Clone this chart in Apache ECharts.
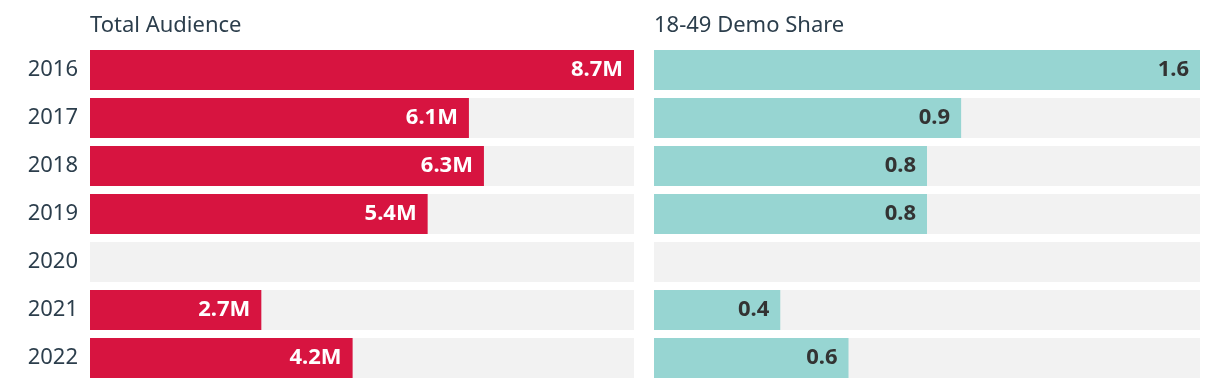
<!DOCTYPE html>
<html>
<head>
<meta charset="utf-8">
<script src="https://cdn.jsdelivr.net/npm/echarts@6/dist/echarts.min.js"></script>
<style>
html,body{margin:0;padding:0;background:#fff;}
#chart{width:1220px;height:388px;}
</style>
</head>
<body>
<div id="chart"></div>
<script>
const years = ['2016', '2017', '2018', '2019', '2020', '2021', '2022'];
const totalAudience = [8.7, 6.06, 6.3, 5.4, null, 2.74, 4.2];   // millions
const demoShare = [1.6, 0.9, 0.8, 0.8, null, 0.37, 0.57];
const panelTitles = ['Total Audience', '18-49 Demo Share'];

const FONT = '"Noto Sans", "Open Sans", sans-serif';
const chart = echarts.init(document.getElementById('chart'));

function yAxis(idx, showLabels) {
  return {
    type: 'category', gridIndex: idx, data: years, inverse: true,
    axisLine: {show: false}, axisTick: {show: false},
    axisLabel: {show: showLabels, fontSize: 22, color: '#2c3e4c', margin: 12, fontFamily: FONT}
  };
}
function xAxis(idx, max) {
  return {type: 'value', gridIndex: idx, min: 0, max: max, show: false};
}

chart.setOption({
  animation: false,
  title: [
    {text: panelTitles[0], left: 90, top: 15, padding: 0,
     textStyle: {fontSize: 22, fontWeight: 'normal', color: '#2c3e4c', fontFamily: FONT}},
    {text: panelTitles[1], left: 654, top: 15, padding: 0,
     textStyle: {fontSize: 22, fontWeight: 'normal', color: '#2c3e4c', fontFamily: FONT}}
  ],
  grid: [
    {left: 90, width: 544, top: 46, height: 336},
    {left: 654, width: 546, top: 46, height: 336}
  ],
  xAxis: [xAxis(0, 8.7), xAxis(1, 1.6)],
  yAxis: [yAxis(0, true), yAxis(1, false)],
  series: [
    {
      type: 'bar', xAxisIndex: 0, yAxisIndex: 0, data: totalAudience,
      barWidth: 40, itemStyle: {color: '#d71440'},
      showBackground: true, backgroundStyle: {color: '#f2f2f2'},
      label: {show: true, position: 'insideRight', offset: [-6, 0], color: '#fff', fontSize: 22,
              fontWeight: 'bold', fontFamily: FONT,
              formatter: p => p.value == null ? '' : p.value.toFixed(1) + 'M'}
    },
    {
      type: 'bar', xAxisIndex: 1, yAxisIndex: 1, data: demoShare,
      barWidth: 40, itemStyle: {color: '#97d5d2'},
      showBackground: true, backgroundStyle: {color: '#f2f2f2'},
      label: {show: true, position: 'insideRight', offset: [-6, 0], color: '#333', fontSize: 22,
              fontWeight: 'bold', fontFamily: FONT,
              formatter: p => p.value == null ? '' : p.value.toFixed(1)}
    }
  ]
});
</script>
</body>
</html>
